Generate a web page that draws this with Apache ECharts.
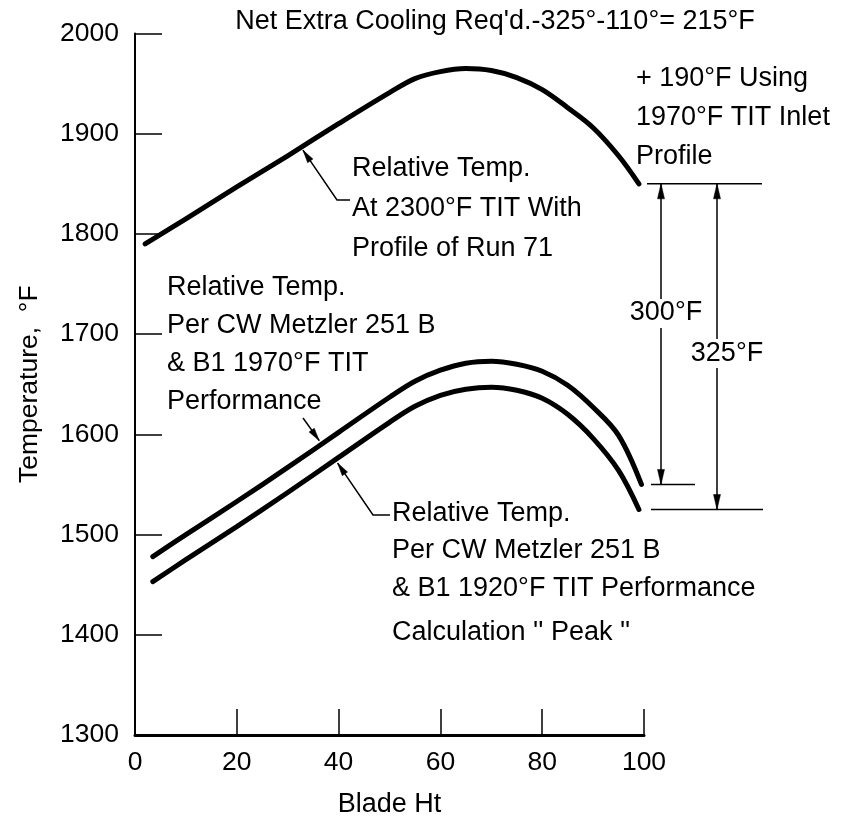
<!DOCTYPE html>
<html>
<head>
<meta charset="utf-8">
<script src="https://cdn.jsdelivr.net/npm/echarts@6/dist/echarts.min.js"></script>
<style>
  html, body { margin: 0; padding: 0; background: #fff; }
  #chart { width: 851px; height: 823px; }
</style>
</head>
<body>
<div id="chart"></div>
<script>
// Axis ranges and ticks
const bladeHtRange = [0, 100];
const bladeHtStep = 20;
const tempRange = [1300, 2000];
const tempStep = 100;

// Relative temperature vs blade height: [blade ht, °F]
const run71At2300 = [
  [2, 1790], [10, 1815], [20, 1847], [30, 1878], [40, 1910], [50, 1941],
  [55, 1955], [60, 1962], [65, 1965], [70, 1963], [75, 1956], [80, 1944],
  [85, 1926], [90, 1906], [95, 1878], [99, 1850]
];
const metzler1970 = [
  [3.5, 1478], [10, 1500], [20, 1533], [30, 1567], [40, 1602], [50, 1637],
  [55, 1653], [60, 1664], [65, 1671], [70, 1673], [75, 1670], [80, 1663],
  [85, 1649], [90, 1627], [95, 1599], [99.5, 1550]
];
const metzler1920 = [
  [3.5, 1453], [10, 1475], [20, 1508], [30, 1542], [40, 1577], [50, 1612],
  [55, 1628], [60, 1639], [65, 1645], [70, 1647], [75, 1644], [80, 1636],
  [85, 1620], [90, 1596], [95, 1564], [99, 1525]
];

// Dimension levels for the tip temperatures
const dimTipTemps = { top: 1850, mid: 1550, low: 1525 };

const SANS = "'Liberation Sans', Arial, sans-serif";

const chart = echarts.init(document.getElementById('chart'), null, { renderer: 'canvas' });

const curveStyle = { color: '#000', width: 5, cap: 'round', join: 'round' };
function curve(name, data) {
  return {
    name, type: 'line', data, smooth: 0.35, showSymbol: false,
    lineStyle: curveStyle, itemStyle: { color: '#000' }, silent: true, z: 3
  };
}

chart.setOption({
  animation: false,
  backgroundColor: '#fff',
  grid: { left: 135, right: 207, top: 33.5, bottom: 86, containLabel: false },
  xAxis: {
    type: 'value', min: bladeHtRange[0], max: bladeHtRange[1], interval: bladeHtStep,
    name: 'Blade Ht', nameLocation: 'middle', nameGap: 56,
    nameTextStyle: { fontFamily: SANS, fontSize: 27, color: '#000' },
    axisLine: { show: true, lineStyle: { color: '#000', width: 3 } },
    axisTick: { show: true, inside: true, length: 26, lineStyle: { color: '#000', width: 1.5 } },
    axisLabel: { fontFamily: SANS, fontSize: 26.5, color: '#000', margin: 14, formatter: v => String(v) },
    splitLine: { show: false }
  },
  yAxis: {
    type: 'value', min: tempRange[0], max: tempRange[1], interval: tempStep,
    name: 'Temperature,  °F', nameLocation: 'middle', nameGap: 92,
    nameTextStyle: { fontFamily: SANS, fontSize: 26.5, color: '#000' },
    axisLine: { show: true, lineStyle: { color: '#000', width: 2 } },
    axisTick: { show: true, inside: true, length: 27, lineStyle: { color: '#000', width: 1.5 } },
    axisLabel: { fontFamily: SANS, fontSize: 26.5, color: '#000', margin: 16, formatter: v => String(v) },
    splitLine: { show: false }
  },
  series: [
    curve('2300°F TIT, Run 71 profile', run71At2300),
    curve('1970°F TIT performance', metzler1970),
    curve('1920°F TIT performance', metzler1920)
  ]
});

// Helpers for annotations
function px(x, y) { return chart.convertToPixel({ gridIndex: 0 }, [x, y]); }
function interp(data, x) {
  for (let i = 1; i < data.length; i++) {
    if (x <= data[i][0]) {
      const [x0, y0] = data[i - 1], [x1, y1] = data[i];
      return y0 + (y1 - y0) * (x - x0) / (x1 - x0);
    }
  }
  return data[data.length - 1][1];
}
function onCurve(data, x) { return px(x, interp(data, x)); }

const thin = { stroke: '#000', lineWidth: 1.5, fill: null };
function line(pts) { return { type: 'polyline', shape: { points: pts }, style: thin, silent: true }; }
function arrowHead(tip, from, len = 13, half = 3.2) {
  const dx = tip[0] - from[0], dy = tip[1] - from[1];
  const d = Math.hypot(dx, dy), ux = dx / d, uy = dy / d;
  const bx = tip[0] - ux * len, by = tip[1] - uy * len;
  return {
    type: 'polygon', silent: true,
    shape: { points: [tip, [bx - uy * half, by + ux * half], [bx + uy * half, by - ux * half]] },
    style: { fill: '#000', stroke: '#000', lineWidth: 0.5 }
  };
}
function text(str, x, y, opts = {}) {
  return {
    type: 'text', x, y, silent: true,
    style: {
      text: str, fill: '#000',
      font: `${opts.size || 27}px ${opts.family || SANS}`,
      textAlign: opts.align || 'left', textVerticalAlign: 'middle',
      lineHeight: opts.lineHeight || 39
    }
  };
}

const g = [];

// Heading
g.push(text("Net Extra Cooling Req'd.-325°-110°= 215°F", 495, 22, { size: 27, align: 'center' }));

// Top curve note and leader
g.push(text('+ 190°F Using\n1970°F TIT Inlet\nProfile', 636, 118, { lineHeight: 39 }));
g.push(text('Relative Temp.\nAt 2300°F TIT With\nProfile of Run 71', 352, 209, { lineHeight: 40 }));
{
  const c = onCurve(run71At2300, 33);
  const tip = [c[0], c[1] + 4];
  const corner = [337, 200];
  g.push(line([[350, 200], corner, tip]));
  g.push(arrowHead(tip, corner));
}

// Middle curve note and leader
g.push(text('Relative Temp.\nPer CW Metzler 251 B\n& B1 1970°F TIT\nPerformance', 167, 345, { lineHeight: 38 }));
{
  const c = onCurve(metzler1970, 36.2);
  const tip = [c[0], c[1] - 5];
  const from = [303, 418];
  g.push(line([from, tip]));
  g.push(arrowHead(tip, from));
}

// Lower curve note and leader
g.push(text('Relative Temp.\nPer CW Metzler 251 B\n& B1 1920°F TIT Performance', 392, 551, { lineHeight: 37.5 }));
g.push(text("Calculation '' Peak ''", 392, 633));
{
  const c = onCurve(metzler1920, 39.8);
  const tip = [c[0], c[1] + 5];
  const corner = [373, 515];
  g.push(line([[390, 515], corner, tip]));
  g.push(arrowHead(tip, corner));
}

// Dimension lines between the blade-tip temperatures
{
  const yTop = px(100, dimTipTemps.top)[1];
  const yMid = px(100, dimTipTemps.mid)[1];
  const yLow = px(100, dimTipTemps.low)[1];
  g.push(line([[647, yTop], [762, yTop]]));
  g.push(line([[651, yMid], [695, yMid]]));
  g.push(line([[651, yLow], [763, yLow]]));

  const xa = 661, xb = 717;
  // 300°F span
  g.push(line([[xa, yTop], [xa, 299]]));
  g.push(line([[xa, 328], [xa, yMid]]));
  g.push(arrowHead([xa, yTop], [xa, yTop + 20], 15, 3.5));
  g.push(arrowHead([xa, yMid], [xa, yMid - 20], 15, 3.5));
  g.push(text('300°F', 666, 313, { align: 'center' }));
  // 325°F span
  g.push(line([[xb, yTop], [xb, 339]]));
  g.push(line([[xb, 368], [xb, yLow]]));
  g.push(arrowHead([xb, yTop], [xb, yTop + 20], 15, 3.5));
  g.push(arrowHead([xb, yLow], [xb, yLow - 20], 15, 3.5));
  g.push(text('325°F', 727, 354, { align: 'center' }));
}

chart.setOption({ graphic: { elements: g } });
</script>
</body>
</html>
